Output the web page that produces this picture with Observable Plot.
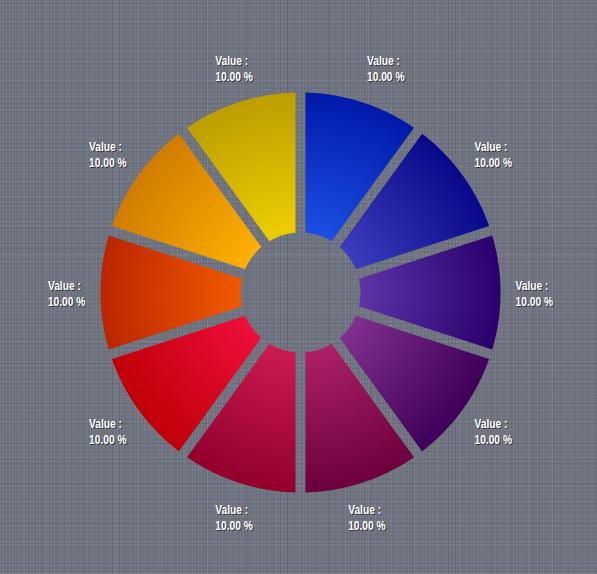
<!DOCTYPE html>
<html>
<head>
<meta charset="utf-8">
<script src="https://cdn.jsdelivr.net/npm/d3@7"></script>
<script src="https://cdn.jsdelivr.net/npm/@observablehq/plot@0.6"></script>
<style>
  html, body { margin: 0; padding: 0; }
  body {
    width: 597px; height: 574px; overflow: hidden;
    background-color: #6c717d;
    background-image:
      repeating-linear-gradient(90deg, rgba(255,255,255,0.06) 0 1px, transparent 1px 3px),
      repeating-linear-gradient(0deg, rgba(255,255,255,0.05) 0 1px, transparent 1px 4px),
      repeating-linear-gradient(90deg, rgba(0,0,0,0.05) 0 1px, transparent 1px 7px),
      repeating-linear-gradient(0deg, rgba(0,0,0,0.05) 0 1px, transparent 1px 5px),
      repeating-linear-gradient(90deg, rgba(255,255,255,0.06) 0 1px, transparent 1px 23px),
      repeating-linear-gradient(0deg, rgba(255,255,255,0.05) 0 1px, transparent 1px 29px),
      repeating-linear-gradient(90deg, rgba(0,0,0,0.04) 0 2px, transparent 2px 41px),
      repeating-linear-gradient(0deg, rgba(255,255,255,0.04) 0 1px, transparent 1px 53px);
  }
  #chart svg { display: block; }
</style>
</head>
<body>
<div id="chart"></div>
<script>
// ---- data ----
const categories = ["S1","S2","S3","S4","S5","S6","S7","S8","S9","S10"];
const values = [10,10,10,10,10,10,10,10,10,10];
const labelPrefix = "Value :";
// ---- palette (inner light, outer dark) ----
const innerColors = ["#1b4fe3","#3c3cbc","#5c34a4","#80308e","#ac2068","#cc1a52","#ee0e3a","#f05a00","#ffb000","#eccf00"];
const outerColors = ["#0019a9","#08088a","#2a006e","#3e0058","#6c003c","#92002a","#c00008","#bc2600","#d07c00","#bc9e00"];

const W = 597, H = 574;
const R = 200, R0 = 60, HALF_GAP = 5;
const LRX = 215, LRY = 236;

const total = d3.sum(values);
const arcs = d3.pie().sort(null).value(d => d.value)(categories.map((c, i) => ({category: c, value: values[i], i})));

function sector(a0, a1) {
  const pts = [];
  const o0 = a0 + Math.asin(HALF_GAP / R), o1 = a1 - Math.asin(HALF_GAP / R);
  const i0 = a0 + Math.asin(HALF_GAP / R0), i1 = a1 - Math.asin(HALF_GAP / R0);
  const n = 60, m = 24;
  for (let k = 0; k <= n; k++) { const a = o0 + (o1 - o0) * k / n; pts.push({x: R * Math.sin(a), y: R * Math.cos(a)}); }
  for (let k = 0; k <= m; k++) { const a = i1 + (i0 - i1) * k / m; pts.push({x: R0 * Math.sin(a), y: R0 * Math.cos(a)}); }
  return pts;
}

const labels = arcs.map(a => {
  const t = (a.startAngle + a.endAngle) / 2;
  const deg = t * 180 / Math.PI;
  const anchor = deg < 144 ? "start" : deg < 216 ? "middle" : deg < 324 ? "end" : "middle";
  return {
    x: LRX * Math.sin(t), y: LRY * Math.cos(t), anchor,
    text: labelPrefix + "\n" + d3.format(".2f")(a.data.value / total * 100) + " %"
  };
});

const font = "'Liberation Sans', Arial, sans-serif";
const textMarks = [];
for (const anchor of ["start", "middle", "end"]) {
  const sub = labels.filter(d => d.anchor === anchor);
  const common = {x: "x", y: "y", text: "text", textAnchor: anchor, fontSize: 12.5, fontWeight: "bold", lineHeight: 1.28, fontFamily: font};
  textMarks.push(Plot.text(sub, {...common, dx: 1, dy: 1, fill: "#1a1a1a", fillOpacity: 0.7}));
  textMarks.push(Plot.text(sub, {...common, fill: "white"}));
}

const chart = Plot.plot({
  width: W, height: H,
  margin: 0,
  x: {domain: [-300, W - 300], range: [0, W], axis: null},
  y: {domain: [292 - H, 292], range: [H, 0], axis: null},
  style: {background: "transparent", overflow: "visible"},
  marks: [
    ...arcs.map((a, i) => Plot.line(sector(a.startAngle, a.endAngle), {x: "x", y: "y", fill: `url(#grad${i})`, stroke: "none"})),
    ...textMarks
  ]
});

// gradients in the plot's pixel space, positioned via the plot's scales
const sx = chart.scale("x"), sy = chart.scale("y");
const cx = sx.apply(0), cy = sy.apply(0), rr = sx.apply(R) - cx;
const defs = d3.select(chart).insert("defs", ":first-child");
innerColors.forEach((c, i) => {
  const g = defs.append("radialGradient").attr("id", `grad${i}`)
    .attr("gradientUnits", "userSpaceOnUse").attr("cx", cx).attr("cy", cy).attr("r", rr);
  g.append("stop").attr("offset", R0 / R).attr("stop-color", c);
  g.append("stop").attr("offset", 1).attr("stop-color", outerColors[i]);
});

document.getElementById("chart").appendChild(chart);

// condense the label glyphs horizontally and left-align the lines of each label block
const SQUEEZE = 0.82;
d3.select(chart).selectAll("text").each(function () {
  const b = this.getBBox();
  const t = this.getAttribute("transform") || "";
  this.setAttribute("text-anchor", "start");
  this.querySelectorAll("tspan").forEach(s => s.setAttribute("text-anchor", "start"));
  this.setAttribute("transform", `${t} translate(${b.x * SQUEEZE},0) scale(${SQUEEZE},1)`);
});
</script>
</body>
</html>
